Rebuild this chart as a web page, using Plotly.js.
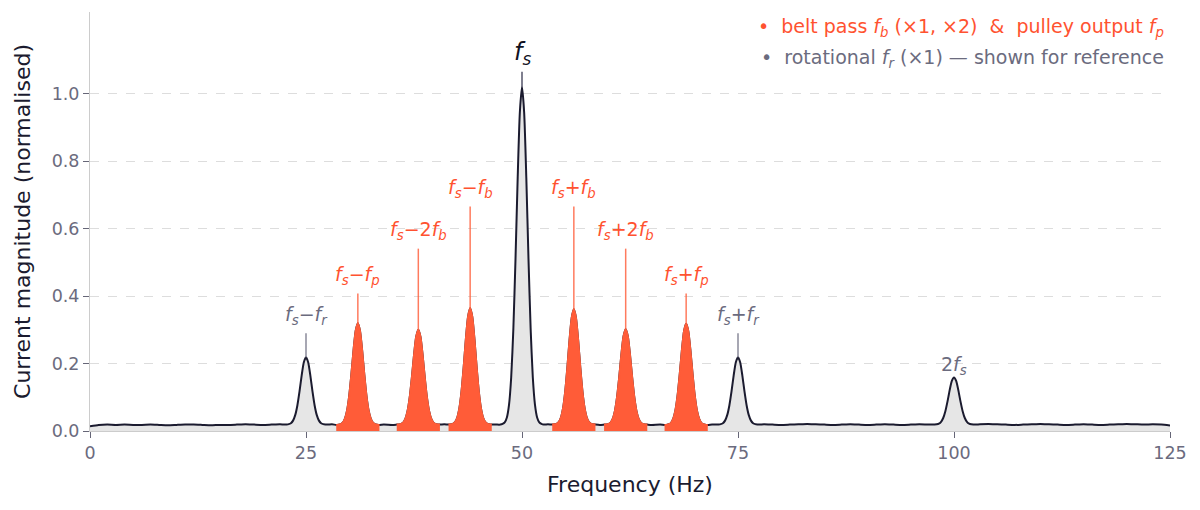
<!DOCTYPE html>
<html>
<head>
<meta charset="utf-8">
<script src="https://cdn.plot.ly/plotly-3.0.1.min.js"></script>
<style>
  html, body { margin: 0; padding: 0; background: #ffffff; }
  #chart { width: 1200px; height: 510px; }
</style>
</head>
<body>
<div id="chart"></div>
<script>
// ---------------- DATA ----------------
// Spectral line centres (Hz)
const peakFreqs = [25, 31, 38, 44, 50, 56, 62, 69, 75, 100];
// Line amplitude above the noise floor (normalised)
const peakAmps = [0.200, 0.302, 0.281, 0.345, 1.002, 0.342, 0.283, 0.300, 0.200, 0.140];
// Kind of each line
const peakKinds = ['rot', 'belt', 'belt', 'belt', 'supply', 'belt', 'belt', 'belt', 'rot', 'harm'];
// Label of each line
const peakLabels = [
  '<i>f</i><sub><i>s</i></sub>\u2212<i>f</i><sub><i>r</i></sub>',
  '<i>f</i><sub><i>s</i></sub>\u2212<i>f</i><sub><i>p</i></sub>',
  '<i>f</i><sub><i>s</i></sub>\u22122<i>f</i><sub><i>b</i></sub>',
  '<i>f</i><sub><i>s</i></sub>\u2212<i>f</i><sub><i>b</i></sub>',
  '<i>f</i><sub><i>s</i></sub>',
  '<i>f</i><sub><i>s</i></sub>+<i>f</i><sub><i>b</i></sub>',
  '<i>f</i><sub><i>s</i></sub>+2<i>f</i><sub><i>b</i></sub>',
  '<i>f</i><sub><i>s</i></sub>+<i>f</i><sub><i>p</i></sub>',
  '<i>f</i><sub><i>s</i></sub>+<i>f</i><sub><i>r</i></sub>',
  '2<i>f</i><sub><i>s</i></sub>'
];
const profileOffsets = [-2.5, -2.25, -2, -1.75, -1.5, -1.25, -1, -0.75, -0.5, -0.25, 0,
                         0.25, 0.5, 0.75, 1, 1.25, 1.5, 1.75, 2, 2.25, 2.5];
const profileValues  = [0, 0.002, 0.0065, 0.021, 0.059, 0.14, 0.284, 0.492, 0.73, 0.924, 1,
                        0.924, 0.73, 0.492, 0.284, 0.14, 0.059, 0.021, 0.0065, 0.002, 0];
// Noise floor, one reading per Hz from 0 to 125 Hz
const floorLevel = [
  0.014,0.018,0.019,0.018,0.019,0.018,0.018,0.019,0.018,0.017,
  0.018,0.019,0.019,0.018,0.017,0.018,0.018,0.019,0.020,0.019,
  0.018,0.019,0.020,0.019,0.018,0.019,0.018,0.019,0.020,0.019,
  0.019,0.018,0.019,0.020,0.019,0.018,0.019,0.020,0.019,0.018,
  0.019,0.020,0.019,0.018,0.019,0.019,0.018,0.019,0.020,0.019,
  0.019,0.018,0.019,0.020,0.019,0.018,0.019,0.020,0.019,0.018,
  0.019,0.018,0.019,0.020,0.019,0.018,0.019,0.020,0.019,0.018,
  0.019,0.020,0.019,0.018,0.019,0.019,0.018,0.019,0.020,0.019,
  0.018,0.019,0.020,0.021,0.020,0.019,0.018,0.019,0.020,0.019,
  0.018,0.019,0.020,0.019,0.018,0.019,0.020,0.019,0.018,0.019,
  0.019,0.018,0.019,0.020,0.021,0.020,0.019,0.018,0.019,0.020,
  0.021,0.020,0.019,0.018,0.019,0.020,0.019,0.018,0.019,0.020,
  0.021,0.020,0.019,0.020,0.019,0.016
];
const xTickVals = [0, 25, 50, 75, 100, 125];
const yTickVals = [0, 0.2, 0.4, 0.6, 0.8, 1.0];
const yTickText = ['0.0', '0.2', '0.4', '0.6', '0.8', '1.0'];
const legendTexts = [
  '\u2022  belt pass <i>f</i><sub><i>b</i></sub> (\u00d71, \u00d72)  &amp;  pulley output <i>f</i><sub><i>p</i></sub>',
  '\u2022  rotational <i>f</i><sub><i>r</i></sub> (\u00d71) \u2014 shown for reference'
];

// ---------------- STYLE / POSITIONS ----------------
const ORANGE = '#FF5C38';
const ORANGE_TXT = '#FF5230';
const GRAY_TXT = '#6B6B7E';
const LINE = '#1B1B2F';
const FONT = 'DejaVu Sans, sans-serif';
// top of each label stem (data units); null = no stem
const stemTops = [0.29, 0.408, 0.541, 0.666, 1.066, 0.666, 0.541, 0.408, 0.29, null];

// ---------------- BUILD ----------------
const specX = [], specY = [];
const pts = [];
for (let f = 0; f < floorLevel.length; f++) {
  const near = peakFreqs.some(c => Math.abs(f - c) <= 2.5);
  if (!near) pts.push([f, floorLevel[f]]);
}
const bands = [];
peakFreqs.forEach((c, i) => {
  const bx = [], by = [];
  profileOffsets.forEach((o, k) => {
    const x = c + o;
    const y = floorLevel[c] + peakAmps[i] * profileValues[k];
    pts.push([x, y]);
    bx.push(x); by.push(y);
  });
  if (peakKinds[i] === 'belt') bands.push({x: bx, y: by});
});
pts.sort((a, b) => a[0] - b[0]);
pts.forEach(p => { specX.push(p[0]); specY.push(p[1]); });

const traces = [{
  type: 'scatter', mode: 'lines', x: specX, y: specY,
  fill: 'tozeroy', fillcolor: '#E6E6E6',
  line: {color: LINE, width: 2, shape: 'spline', smoothing: 0.6},
  showlegend: false, hoverinfo: 'x+y'
}];
bands.forEach(b => traces.push({
  type: 'scatter', mode: 'lines', x: b.x, y: b.y,
  fill: 'tozeroy', fillcolor: ORANGE,
  line: {color: ORANGE, width: 2, shape: 'spline', smoothing: 0.6},
  showlegend: false, hoverinfo: 'x+y'
}));

const shapes = [], annotations = [];
peakFreqs.forEach((c, i) => {
  const top = floorLevel[c] + peakAmps[i];
  const kind = peakKinds[i];
  const color = kind === 'belt' ? ORANGE_TXT : (kind === 'supply' ? '#111122' : GRAY_TXT);
  const stemColor = kind === 'belt' ? 'rgba(255,90,54,0.8)' : (kind === 'supply' ? '#55556A' : '#8A8A9A');
  if (stemTops[i] !== null) {
    shapes.push({type: 'line', xref: 'x', yref: 'y', x0: c, x1: c, y0: top, y1: stemTops[i],
                 line: {color: stemColor, width: 1.5}});
  }
  annotations.push({
    x: c, y: stemTops[i] !== null ? stemTops[i] : top, xref: 'x', yref: 'y',
    yshift: stemTops[i] !== null ? 18 : 12,
    text: peakLabels[i], showarrow: false, xanchor: 'center', yanchor: 'middle',
    font: {family: FONT, size: kind === 'supply' ? 24 : 19, color: color}
  });
});
annotations.push({
  x: 0.9963, y: 0.962, xref: 'paper', yref: 'paper', xanchor: 'right', yanchor: 'middle',
  align: 'left', showarrow: false, text: legendTexts[0],
  font: {family: FONT, size: 19, color: ORANGE_TXT}
});
annotations.push({
  x: 0.9963, y: 0.888, xref: 'paper', yref: 'paper', xanchor: 'right', yanchor: 'middle',
  align: 'left', showarrow: false, text: legendTexts[1],
  font: {family: FONT, size: 19, color: GRAY_TXT}
});

const layout = {
  width: 1200, height: 510,
  margin: {l: 90, r: 30, t: 12, b: 79},
  paper_bgcolor: '#ffffff', plot_bgcolor: '#ffffff',
  font: {family: FONT, color: GRAY_TXT},
  showlegend: false,
  xaxis: {
    range: [0, 125], tickvals: xTickVals, showgrid: false, zeroline: false,
    showline: true, linecolor: '#CCCCCC', linewidth: 1,
    ticks: 'outside', ticklen: 6, tickcolor: '#666677', tickwidth: 1,
    tickfont: {family: FONT, size: 17.5, color: GRAY_TXT},
    title: {text: 'Frequency (Hz)', font: {family: FONT, size: 22, color: '#1B1B2F'}, standoff: 14},
    automargin: false
  },
  yaxis: {
    range: [0, 1.243], tickvals: yTickVals, ticktext: yTickText,
    showgrid: true, gridcolor: '#DDDDDD', griddash: 'dash', gridwidth: 1, zeroline: false,
    showline: true, linecolor: '#CCCCCC', linewidth: 1,
    ticks: 'outside', ticklen: 6, tickcolor: '#666677', tickwidth: 1,
    tickfont: {family: FONT, size: 17.5, color: GRAY_TXT},
    title: {text: 'Current magnitude (normalised)', font: {family: FONT, size: 22, color: '#1B1B2F'}, standoff: 14},
    automargin: false
  },
  shapes: shapes,
  annotations: annotations
};

Plotly.newPlot('chart', traces, layout, {displayModeBar: false, staticPlot: true});
</script>
</body>
</html>
